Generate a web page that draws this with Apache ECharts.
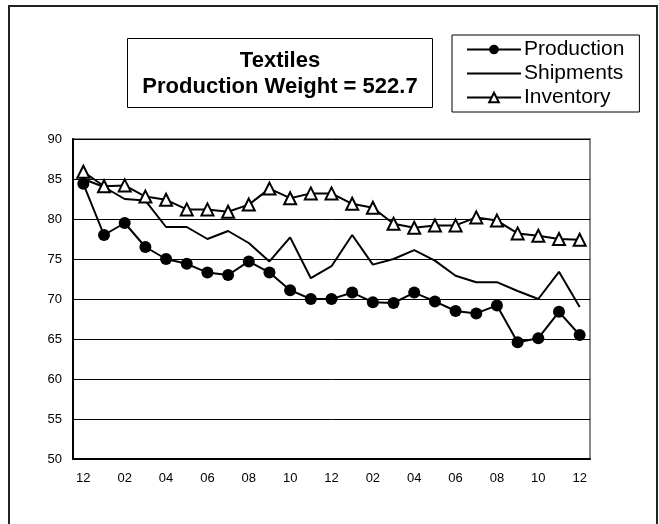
<!DOCTYPE html>
<html>
<head>
<meta charset="utf-8">
<script src="https://cdn.jsdelivr.net/npm/echarts@6/dist/echarts.min.js"></script>
<style>
  html, body { margin: 0; padding: 0; background: #fff; }
  #chart { width: 659px; height: 524px; }
</style>
</head>
<body>
<div id="chart"></div>
<script>
// months, Dec through Dec two years later
const months = ['12', '01', '02', '03', '04', '05', '06', '07', '08', '09', '10', '11',
  '12', '01', '02', '03', '04', '05', '06', '07', '08', '09', '10', '11', '12']
const production = [84.4, 78.0, 79.5, 76.5, 75.0, 74.4, 73.3, 73.0, 74.7, 73.3, 71.1, 70.0,
  70.0, 70.8, 69.6, 69.5, 70.8, 69.7, 68.5, 68.2, 69.2, 64.6, 65.1, 68.4, 65.5]
const shipments = [85.0, 84.0, 82.5, 82.3, 79.0, 79.0, 77.5, 78.5, 77.0, 74.7, 77.7, 72.6,
  74.1, 78.0, 74.3, 75.0, 76.1, 74.8, 72.9, 72.1, 72.1, 71.0, 70.0, 73.4, 69.0]
const inventory = [85.9, 84.1, 84.2, 82.8, 82.4, 81.2, 81.2, 80.9, 81.8, 83.8, 82.6, 83.2,
  83.2, 81.9, 81.4, 79.4, 78.9, 79.2, 79.2, 80.2, 79.8, 78.2, 77.9, 77.5, 77.4]
const yTicks = { min: 50, max: 90, step: 5 }

const font = 'Liberation Sans, Arial, sans-serif'
const chart = echarts.init(document.getElementById('chart'))

const option = {
  animation: false,
  backgroundColor: '#fff',
  graphic: [
    // outer frame
    {
      type: 'rect',
      shape: { x: 9, y: 6, width: 648, height: 540 },
      style: { fill: 'none', stroke: '#222', lineWidth: 2 },
      z: 0
    },
    // title box
    {
      type: 'group',
      left: 127,
      top: 38,
      children: [
        {
          type: 'rect',
          shape: { x: 0, y: 0, width: 305, height: 69 },
          style: { fill: '#fff', stroke: '#000', lineWidth: 1 }
        },
        {
          type: 'text',
          x: 152.5,
          y: 22,
          style: {
            text: 'Textiles',
            font: 'bold 22px ' + font,
            fill: '#000',
            textAlign: 'center',
            textVerticalAlign: 'middle'
          }
        },
        {
          type: 'text',
          x: 152.5,
          y: 48,
          style: {
            text: 'Production Weight = 522.7',
            font: 'bold 22px ' + font,
            fill: '#000',
            textAlign: 'center',
            textVerticalAlign: 'middle'
          }
        }
      ]
    }
  ],
  legend: {
    orient: 'vertical',
    left: 452,
    top: 35,
    padding: [4, 15, 4, 14],
    itemGap: 3,
    itemWidth: 54,
    itemHeight: 12,
    borderColor: '#000',
    borderWidth: 1,
    backgroundColor: '#fff',
    textStyle: { fontFamily: font, fontSize: 21, color: '#000', padding: [0, 0, 0, -2] },
    data: [
      'Production',
      { name: 'Shipments', itemStyle: { opacity: 0 } },
      'Inventory'
    ]
  },
  grid: {
    left: 73,
    top: 139,
    right: 69,
    bottom: 65,
    show: true,
    borderColor: '#888',
    borderWidth: 2
  },
  xAxis: {
    type: 'category',
    data: months,
    boundaryGap: true,
    axisLine: { lineStyle: { color: '#000', width: 2 } },
    axisTick: { inside: true, length: 5, interval: 1, lineStyle: { color: '#000', width: 1 } },
    axisLabel: { interval: 1, fontFamily: font, fontSize: 13, color: '#000', margin: 13 },
    splitLine: { show: false }
  },
  yAxis: {
    type: 'value',
    min: yTicks.min,
    max: yTicks.max,
    interval: yTicks.step,
    axisLine: { show: true, lineStyle: { color: '#000', width: 2 } },
    axisTick: { show: false },
    axisLabel: { fontFamily: font, fontSize: 13, color: '#000', margin: 11 },
    splitLine: {
      show: true,
      lineStyle: { color: '#000', width: 1 }
    }
  },
  series: [
    {
      name: 'Production',
      type: 'line',
      data: production,
      symbol: 'circle',
      symbolSize: 12,
      lineStyle: { color: '#000', width: 2 },
      itemStyle: { color: '#000' },
      z: 4
    },
    {
      name: 'Shipments',
      type: 'line',
      data: shipments,
      symbol: 'none',
      showSymbol: false,
      lineStyle: { color: '#000', width: 2 },
      itemStyle: { color: '#000' },
      z: 3
    },
    {
      name: 'Inventory',
      type: 'line',
      data: inventory,
      symbol: 'triangle',
      symbolSize: 12,
      lineStyle: { color: '#000', width: 2 },
      itemStyle: { color: '#fff', borderColor: '#000', borderWidth: 2 },
      z: 5
    }
  ]
}

chart.setOption(option)
</script>
</body>
</html>
